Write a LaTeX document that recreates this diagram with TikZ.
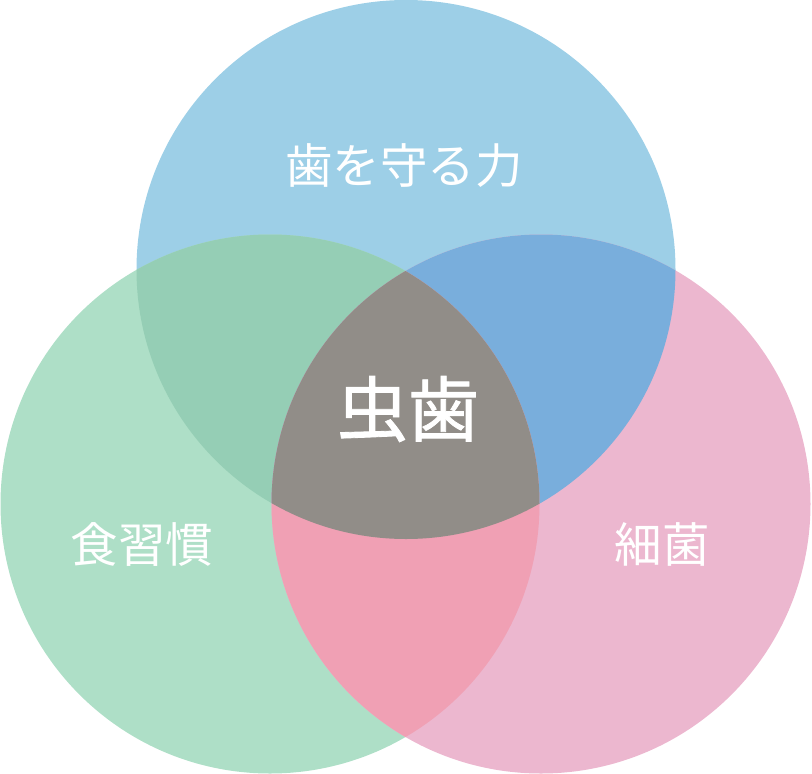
\documentclass[tikz,border=0pt]{standalone}
\usepackage{fontspec}
\newfontfamily\jp{Noto Sans CJK JP}
\newfontfamily\jpb[FakeBold=1.2]{Noto Sans CJK JP}
\definecolor{cblue}{HTML}{9DCFE7}
\definecolor{cgreen}{HTML}{AEDFC7}
\definecolor{cpink}{HTML}{ECB7CF}
\definecolor{cbg}{HTML}{95CEB5}
\definecolor{cbp}{HTML}{79AEDC}
\definecolor{cgp}{HTML}{F0A0B4}
\definecolor{ccenter}{HTML}{918D88}
\tikzset{
  lbl/.style={text=white, font=\jp\fontsize{47.5}{47.5}\selectfont, inner sep=0pt},
  biglbl/.style={text=white, font=\jpb\fontsize{71}{71}\selectfont, inner sep=0pt},
}
\begin{document}
\begin{tikzpicture}[x=1pt,y=-1pt]
\useasboundingbox (0,0) rectangle (812,774);
\def\R{269.5}
\coordinate (T) at (406,269.5);
\coordinate (L) at (270,504);
\coordinate (Rc) at (541,504);
% base circles
\fill[cblue] (T) circle (\R);
\fill[cgreen] (L) circle (\R);
\fill[cpink] (Rc) circle (\R);
% pairwise overlaps
\begin{scope}
  \clip (T) circle (\R);
  \fill[cbg] (L) circle (\R);
  \fill[cbp] (Rc) circle (\R);
\end{scope}
\begin{scope}
  \clip (L) circle (\R);
  \fill[cgp] (Rc) circle (\R);
\end{scope}
% triple overlap
\begin{scope}
  \clip (T) circle (\R);
  \clip (L) circle (\R);
  \fill[ccenter] (Rc) circle (\R);
\end{scope}
\node[lbl] (top) at (404,166) {歯を守る力};
\node[lbl] (left) at (142,544) {食習慣};
\node[lbl] (right) at (662,544) {細菌};
\node[biglbl] (mid) at (408,409) {虫歯};
\end{tikzpicture}
\end{document}
